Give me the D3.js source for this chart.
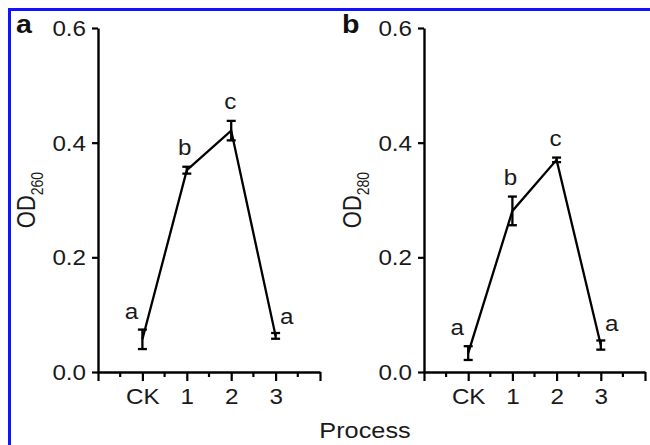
<!DOCTYPE html>
<html>
<head>
<meta charset="utf-8">
<script src="https://cdn.jsdelivr.net/npm/d3@7"></script>
<style>
  body { margin: 0; background: #fff; }
  svg { display: block; font-family: "Liberation Sans", Arial, sans-serif; }
</style>
</head>
<body>
<script>
// data
var categories = ["CK", "1", "2", "3"];
var od260      = [0.057, 0.352, 0.421, 0.063];
var od260Err   = [0.017, 0.006, 0.017, 0.005];
var od280      = [0.033, 0.281, 0.370, 0.047];
var od280Err   = [0.012, 0.025, 0.004, 0.008];
var letters260 = ["a", "b", "c", "a"];
var letters280 = ["a", "b", "c", "a"];
var yTicks     = [0, 0.2, 0.4, 0.6];

var width  = 650,
    height = 445,
    stretch = 1.1;   // figure text looks horizontally stretched

var svg = d3.select("body")
  .append("svg")
  .attr("width", width)
  .attr("height", height);

svg.append("rect").attr("width", width).attr("height", height).attr("fill", "#fff");

// blue frame (top + left)
svg.append("line").attr("x1", 8).attr("x2", width).attr("y1", 9.5).attr("y2", 9.5)
  .attr("stroke", "#1212ff").attr("stroke-width", 3);
svg.append("line").attr("x1", 9.5).attr("x2", 9.5).attr("y1", 8).attr("y2", height)
  .attr("stroke", "#1212ff").attr("stroke-width", 3);

var panels = [
  { tag: "a", sub: "260", x0: 98,  x1: 320, vals: od260, err: od260Err, letters: letters260 },
  { tag: "b", sub: "280", x0: 424, x1: 645, vals: od280, err: od280Err, letters: letters280 }
];

// letter placement relative to top of the error bar
var letterDx = [-11, -2, -1, 11];
var letterDy = [-11, -12, -12, -9];

panels.forEach(function(p) {
  var x = d3.scaleLinear().domain([-1, 4]).range([p.x0, p.x1]);
  var y = d3.scaleLinear().domain([0, 0.6]).range([372, 28]);
  var g = svg.append("g");

  // y axis
  var yAxis = g.append("g")
    .attr("transform", "translate(" + p.x0 + ",0)")
    .call(d3.axisLeft(y).tickValues(yTicks).tickFormat(d3.format(".1f")).tickSize(6).tickPadding(7).tickSizeOuter(0));
  yAxis.select(".domain").attr("stroke-width", 2.4);
  yAxis.selectAll(".tick line").attr("stroke-width", 2.2);
  yAxis.selectAll("text")
    .attr("font-size", 22)
    .attr("fill", "#1a1a1a")
    .attr("x", -12 / stretch)
    .attr("dy", "0.34em")
    .attr("transform", "scale(" + stretch + ",1)");

  // x axis, major ticks at the categories and the ends, minor in between
  var xAxis = g.append("g")
    .attr("transform", "translate(0,372)")
    .call(d3.axisBottom(x).tickValues([-1, 0, 1, 2, 3, 4])
      .tickFormat(function(d) { return categories[d] || ""; })
      .tickSize(9).tickPadding(7).tickSizeOuter(0));
  xAxis.select(".domain").attr("stroke-width", 2.4);
  xAxis.selectAll(".tick line").attr("stroke-width", 2.2);
  xAxis.selectAll("text")
    .attr("font-size", 22)
    .attr("fill", "#1a1a1a")
    .attr("transform", "scale(" + stretch + ",1)");

  g.append("g")
    .attr("transform", "translate(0,372)")
    .selectAll("line")
    .data([-0.5, 0.5, 1.5, 2.5, 3.5])
    .enter().append("line")
    .attr("x1", function(d) { return x(d); })
    .attr("x2", function(d) { return x(d); })
    .attr("y1", 0).attr("y2", 5)
    .attr("stroke", "#000").attr("stroke-width", 2.2);

  // connecting line
  var line = d3.line()
    .x(function(d, i) { return x(i); })
    .y(function(d) { return y(d); });
  g.append("path")
    .datum(p.vals)
    .attr("d", line)
    .attr("fill", "none")
    .attr("stroke", "#000")
    .attr("stroke-width", 2.3);

  // error bars
  var eb = g.append("g").selectAll("g")
    .data(p.vals)
    .enter().append("g")
    .attr("stroke", "#000").attr("stroke-width", 2.3);
  eb.append("line")
    .attr("x1", function(d, i) { return x(i); })
    .attr("x2", function(d, i) { return x(i); })
    .attr("y1", function(d, i) { return y(d - p.err[i]); })
    .attr("y2", function(d, i) { return y(d + p.err[i]); });
  [-1, 1].forEach(function(s) {
    eb.append("line")
      .attr("x1", function(d, i) { return x(i) - 4.5; })
      .attr("x2", function(d, i) { return x(i) + 4.5; })
      .attr("y1", function(d, i) { return y(d + s * p.err[i]); })
      .attr("y2", function(d, i) { return y(d + s * p.err[i]); });
  });

  // significance letters
  g.selectAll(".sig")
    .data(p.letters)
    .enter().append("text")
    .attr("class", "sig")
    .attr("transform", function(d, i) {
      return "translate(" + (x(i) + letterDx[i]) + "," + (y(p.vals[i] + p.err[i]) + letterDy[i]) + ") scale(" + stretch + ",1)";
    })
    .attr("text-anchor", "middle")
    .attr("font-size", 22)
    .attr("fill", "#1a1a1a")
    .text(function(d) { return d; });

  // panel tag
  svg.append("text")
    .attr("transform", "translate(" + (p.x0 - 82) + ",33) scale(" + stretch + ",1)")
    .attr("font-size", 26)
    .attr("font-weight", "bold")
    .attr("fill", "#111")
    .text(p.tag);

  // y label
  var yl = svg.append("text")
    .attr("transform", "translate(" + (p.x0 - 63) + ",200) rotate(-90) scale(1,1.15)")
    .attr("text-anchor", "middle")
    .attr("font-size", 22)
    .attr("fill", "#1a1a1a");
  yl.append("tspan").text("OD");
  yl.append("tspan").attr("font-size", 14).attr("dy", 7).text(p.sub);
});

svg.append("text")
  .attr("transform", "translate(365,438) scale(1.15,1)")
  .attr("text-anchor", "middle")
  .attr("font-size", 22)
  .attr("fill", "#1a1a1a")
  .text("Process");
</script>
</body>
</html>
